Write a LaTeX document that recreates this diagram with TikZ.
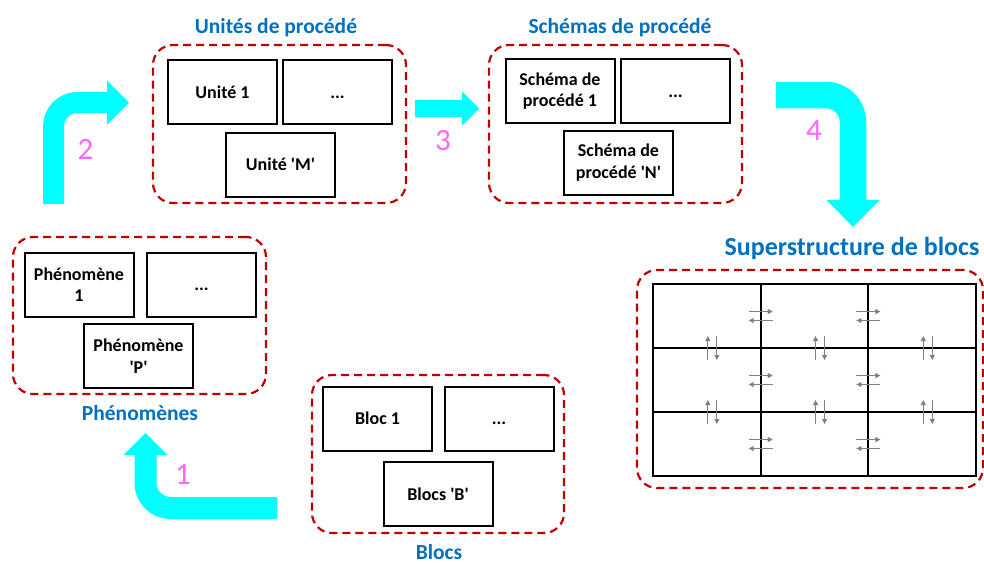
\documentclass[tikz,border=0pt]{standalone}
\usepackage{fontspec}
\setmainfont{Carlito}
\usetikzlibrary{arrows.meta}
\definecolor{dashred}{HTML}{C00000}
\definecolor{titleblue}{HTML}{0070C0}
\definecolor{stepcyan}{HTML}{00FFFF}
\definecolor{stepmagenta}{HTML}{FF66FF}
\definecolor{fluxgray}{HTML}{808080}
\newcommand{\etc}{\vphantom{Unité}...}

\begin{document}
\begin{tikzpicture}[x=1pt, y=-1pt, node distance=115pt,
    box node/.style={draw, line width=2pt, outer sep=0pt, minimum width=109pt, minimum height=64pt, inner sep=0pt, align=center, font=\bfseries\fontsize{18}{21.5}\selectfont},
    group node/.style={draw=dashred, line width=2.2pt, dash pattern=on 8pt off 5pt, rounded corners=20pt, inner sep=0pt},
    title node/.style={anchor=base, text=titleblue, font=\bfseries\fontsize{21.5}{25}\selectfont},
    step node/.style={anchor=base, text=stepmagenta, font=\fontsize{31}{36}\selectfont},
    step arrow/.style={draw=stepcyan},
    cell node/.style={draw, line width=2pt, outer sep=0pt, minimum width=107.7pt, minimum height=64pt, inner sep=0pt},
    flux/.style={fluxgray, line width=1pt, -{Triangle[length=5pt,width=5pt]}}]
        \useasboundingbox (0,0) rectangle (984,563);

        \node[group node, minimum width=253pt, minimum height=158pt] (gu) at (279.5,124) {};
        \node[box node] (u1) at (222.5,92) {Unité 1};
        \node[box node] (u2) [right of = u1] {\etc};
        \node[box node] (u3) [below of = u1, xshift = 58, yshift = 42.5] {Unité \textquotesingle M\textquotesingle};
        \node[title node] (tu) at (276,33) {Unités de procédé};

        \node[group node, minimum width=253pt, minimum height=158pt] (gs) at (615.5,124) {};
        \node[box node] (s1) at (560,91) {Schéma de\\procédé 1};
        \node[box node] (s2) [right of = s1, xshift = 0.5] {\etc};
        \node[box node] (s3) [below of = s1, xshift = 58.5, yshift = 43.5] {Schéma de\\procédé \textquotesingle N\textquotesingle};
        \node[title node] (ts) at (620,33) {Schémas de procédé};

        \node[group node, minimum width=253pt, minimum height=157pt] (gp) at (139.5,315.5) {};
        \node[box node] (p1) at (79,284.5) {Phénomène\\1};
        \node[box node] (p2) [right of = p1, xshift = 7.5] {\etc};
        \node[box node] (p3) [below of = p1, xshift = 59.5, yshift = 43.5] {Phénomène\\\textquotesingle P\textquotesingle};
        \node[title node] (tp) at (140,420) {Phénomènes};

        \node[group node, minimum width=252pt, minimum height=158pt] (gb) at (438,454) {};
        \node[box node] (b1) at (377.5,418.5) {Bloc 1};
        \node[box node] (b2) [right of = b1, xshift = 6.5] {\etc};
        \node[box node] (b3) [below of = b1, xshift = 60.5, yshift = 39.5] {Blocs \textquotesingle B\textquotesingle};
        \node[title node] (tb) at (439,559) {Blocs};

        \node[group node, minimum width=346pt, minimum height=218pt] (gss) at (810,379) {};
        \foreach \r in {1,2,3}
            \foreach \c in {1,2,3}
                \node[cell node] (c\r\c) at ({653+107.7*(\c-0.5)},{284+64*(\r-0.5)}) {};
        \foreach \r in {1,2,3}
            \foreach \c in {1,2} {
                \draw[flux] ([xshift=-12pt, yshift=4.5pt]c\r\c.east) -- ++(24,0);
                \draw[flux] ([xshift=12pt, yshift=-4.5pt]c\r\c.east) -- ++(-24,0);
            }
        \foreach \r in {1,2}
            \foreach \c in {1,2,3} {
                \draw[flux] ([xshift=1pt, yshift=-12pt]c\r\c.south) -- ++(0,-24);
                \draw[flux] ([xshift=10pt, yshift=12pt]c\r\c.south) -- ++(0,24);
            }
        \node[title node, font=\bfseries\fontsize{26}{30}\selectfont] (tss) at (852,255) {Superstructure de blocs};

        \coordinate (d1) at (277,508);
        \coordinate (f1) at (145.5,433);
        \coordinate (d2) at (53.5,204);
        \coordinate (f2) at (129,102.5);
        \coordinate (d3) at (415,108.5);
        \coordinate (f3) at (479,108.5);
        \coordinate (d4) at (776,95);
        \coordinate (f4) at (853,227);

        \draw[step arrow, line width=22pt, rounded corners=25pt, -{Triangle[width=44pt, length=22pt, line width=0pt]}] (d1) -| (f1);
        \draw[step arrow, line width=21pt, rounded corners=24pt, -{Triangle[width=44pt, length=22pt, line width=0pt]}] (d2) |- (f2);
        \draw[step arrow, line width=17pt, -{Triangle[width=34pt, length=17pt, line width=0pt]}] (d3) -- (f3);
        \draw[step arrow, line width=26.5pt, rounded corners=27pt, -{Triangle[width=53pt, length=27pt, line width=0pt]}] (d4) -| (f4);

        \node[step node] (n1) at (183,484) {1};
        \node[step node] (n2) at (85.5,159) {2};
        \node[step node] (n3) at (443,150) {3};
        \node[step node] (n4) at (814,140) {4};
\end{tikzpicture}
\end{document}
